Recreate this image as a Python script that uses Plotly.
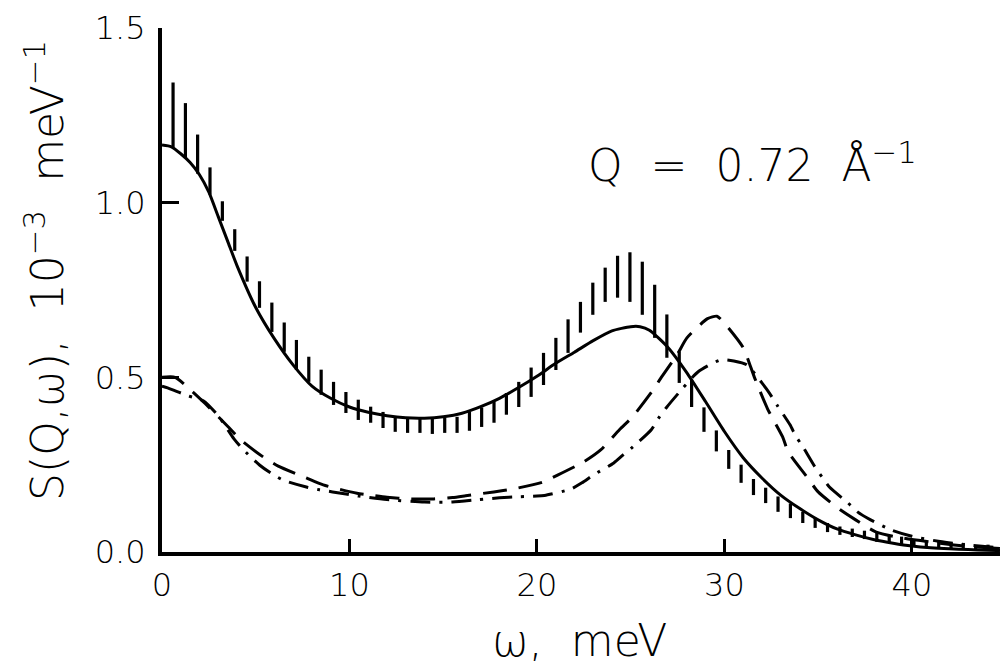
import plotly.graph_objects as go

# Measured S(Q, omega) with error bars (energy transfer in meV, value in 1e-3 meV^-1)
omega_exp = [0.59, 1.25, 1.90, 2.56, 3.22, 3.88, 4.54, 5.20, 5.86, 6.52, 7.17, 7.83,
             8.49, 9.15, 9.81, 10.47, 11.13, 11.79, 12.44, 13.10, 13.76, 14.42, 15.08,
             15.74, 16.40, 17.05, 17.71, 18.37, 19.03, 19.69, 20.35, 21.01, 21.66, 22.32,
             22.98, 23.64, 24.30, 24.96, 25.62, 26.28, 26.93, 27.59, 28.25, 28.91, 29.57,
             30.23, 30.89, 31.55, 32.20, 32.86, 33.52, 34.18, 34.84, 35.50, 36.16, 36.82,
             37.47, 38.13, 38.79, 39.45, 40.11, 40.77, 41.43, 42.09, 42.74, 43.40, 44.06]
s_exp = [1.251, 1.207, 1.139, 1.062, 0.976, 0.893, 0.810, 0.737, 0.672, 0.615, 0.564, 0.523,
         0.486, 0.454, 0.428, 0.407, 0.393, 0.378, 0.364, 0.363, 0.363, 0.361, 0.363,
         0.364, 0.374, 0.386, 0.400, 0.424, 0.451, 0.486, 0.524, 0.567, 0.618, 0.672,
         0.725, 0.765, 0.788, 0.787, 0.755, 0.689, 0.618, 0.529, 0.454, 0.379, 0.318,
         0.265, 0.224, 0.186, 0.162, 0.137, 0.118, 0.099, 0.083, 0.070, 0.061, 0.055,
         0.049, 0.042, 0.036, 0.032, 0.027, 0.022, 0.020, 0.019, 0.016, 0.013, 0.012]
s_err = [0.093, 0.078, 0.056, 0.039, 0.028, 0.031, 0.036, 0.038, 0.042, 0.042, 0.043, 0.036,
         0.036, 0.033, 0.030, 0.029, 0.023, 0.023, 0.020, 0.022, 0.022, 0.023, 0.022,
         0.023, 0.027, 0.028, 0.030, 0.031, 0.036, 0.042, 0.046, 0.046, 0.048, 0.044,
         0.046, 0.049, 0.060, 0.071, 0.076, 0.076, 0.062, 0.045, 0.039, 0.035, 0.030,
         0.027, 0.026, 0.023, 0.022, 0.022, 0.021, 0.016, 0.014, 0.013, 0.012, 0.012,
         0.012, 0.013, 0.010, 0.012, 0.010, 0.008, 0.009, 0.008, 0.010, 0.007, 0.009]

# Model curve, solid line
omega_solid = [0, 0.5, 1, 1.5, 2, 2.5, 3, 3.5, 4, 5, 6, 7, 8, 9, 10, 11, 12, 13, 14, 15,
               16, 17, 18, 19, 20, 21, 22, 23, 24, 25, 25.5, 26, 27, 28, 29, 30, 31, 32,
               33, 34, 35, 36, 37, 38, 39, 40, 41, 42, 43, 44, 44.7]
s_solid = [1.165, 1.16, 1.14, 1.115, 1.08, 1.03, 0.96, 0.89, 0.82, 0.70, 0.61, 0.535,
           0.475, 0.44, 0.415, 0.40, 0.39, 0.384, 0.383, 0.387, 0.397, 0.416, 0.44, 0.47,
           0.503, 0.54, 0.572, 0.605, 0.633, 0.645, 0.645, 0.635, 0.585, 0.513, 0.43,
           0.345, 0.27, 0.212, 0.163, 0.125, 0.092, 0.066, 0.049, 0.035, 0.025, 0.017,
           0.012, 0.009, 0.007, 0.005, 0.004]

# Model curve, dashed line
omega_dash = [0, 0.7, 1.65, 2.3, 3.5, 4.2, 5.4, 6.2, 7.7, 8.6, 10.4, 11.1, 12, 13.2, 14.5,
              15.5, 16.2, 17.7, 18.7, 20.3, 21.1, 22.5, 23.4, 24.4, 25.1, 26.2, 26.6,
              27.5, 28.0, 29.1, 29.6, 30.0, 31.0, 31.6, 32.3, 33.1, 33.4, 34.4, 35.0,
              36.2, 37.0, 38.1, 39.5, 41.5, 43.0, 44.7]
s_dash = [0.500, 0.500, 0.458, 0.425, 0.360, 0.321, 0.272, 0.246, 0.212, 0.192, 0.168,
          0.163, 0.157, 0.152, 0.152, 0.156, 0.161, 0.172, 0.180, 0.200, 0.220, 0.258,
          0.292, 0.350, 0.387, 0.464, 0.497, 0.567, 0.613, 0.668, 0.675, 0.655, 0.585,
          0.500, 0.410, 0.330, 0.287, 0.215, 0.172, 0.120, 0.092, 0.057, 0.040, 0.025,
          0.016, 0.010]

# Model curve, dash-dot line
omega_dashdot = [0, 0.3, 1.4, 2.2, 3.0, 3.84, 4.3, 5.2, 5.8, 6.45, 7.7, 8.4, 9.1, 10.5,
                 12, 14, 15.5, 16.9, 18, 19, 20, 20.4, 21.8, 22.4, 23, 24.1, 24.6, 25.1,
                 26.1, 26.5, 26.9, 27.7, 28.6, 29.8, 30.5, 31.2, 32.0, 32.4, 32.8, 33.5,
                 33.8, 34.2, 34.8, 35.2, 35.6, 36.6, 37.1, 37.8, 38.9, 40, 41.5, 43,
                 44.7]
s_dashdot = [0.475, 0.470, 0.447, 0.433, 0.39, 0.324, 0.295, 0.249, 0.226, 0.206, 0.186,
             0.178, 0.172, 0.160, 0.150, 0.143, 0.143, 0.150, 0.155, 0.158, 0.160, 0.162,
             0.180, 0.198, 0.220, 0.255, 0.278, 0.300, 0.350, 0.384, 0.413, 0.464, 0.516,
             0.550, 0.547, 0.536, 0.484, 0.455, 0.421, 0.364, 0.332, 0.300, 0.246, 0.215,
             0.186, 0.140, 0.115, 0.092, 0.063, 0.045, 0.030, 0.020, 0.012]

x_ticks = [0, 10, 20, 30, 40]
y_ticks = [0.0, 0.5, 1.0, 1.5]
y_tick_text = ["0.0", "0.5", "1.0", "1.5"]

FONT = "DejaVu Sans, Liberation Sans, sans-serif"
THIN = 200

fig = go.Figure()

fig.add_trace(go.Scatter(x=omega_solid, y=s_solid, mode="lines",
                         line=dict(color="black", width=3, shape="spline", smoothing=0.6)))
fig.add_trace(go.Scatter(x=omega_dash, y=s_dash, mode="lines",
                         line=dict(color="black", width=3, dash="24px,12px",
                                   shape="spline", smoothing=0.6)))
fig.add_trace(go.Scatter(x=omega_dashdot, y=s_dashdot, mode="lines",
                         line=dict(color="black", width=3, dash="20px,9px,3px,9px",
                                   shape="spline", smoothing=0.6)))
fig.add_trace(go.Scatter(x=omega_exp, y=s_exp, mode="markers",
                         marker=dict(size=1, color="rgba(0,0,0,0)"),
                         error_y=dict(type="data", array=s_err, visible=True,
                                      width=0, thickness=3.2, color="black")))

# Momentum-transfer label inside the plot
fig.add_annotation(x=31.5, y=1.115, xref="x", yref="y",
                   text="Q  =  0.72  Å<sup>−1</sup>", showarrow=False,
                   xanchor="center", yanchor="middle",
                   font=dict(family=FONT, size=44, color="black", weight=THIN))

# Axis titles, placed as free text
fig.add_annotation(x=0.4988, y=-0.168, xref="paper", yref="paper",
                   text="ω,  meV", showarrow=False,
                   xanchor="center", yanchor="middle",
                   font=dict(family=FONT, size=44, color="black", weight=THIN))
fig.add_annotation(x=-0.141, y=0.538, xref="paper", yref="paper",
                   text="S(Q,ω),  10<sup>−3</sup>  meV<sup>−1</sup>",
                   showarrow=False, textangle=-90,
                   xanchor="center", yanchor="middle",
                   font=dict(family=FONT, size=44, color="black", weight=THIN))

fig.update_layout(
    width=1000, height=666,
    margin=dict(l=162, r=0, t=28, b=114),
    paper_bgcolor="white", plot_bgcolor="white",
    showlegend=False,
    font=dict(family=FONT, size=32, color="black"),
)

fig.update_xaxes(
    range=[0, 44.7], tickvals=x_ticks, ticks="inside", ticklen=13, tickwidth=3,
    tickcolor="black", showline=True, linewidth=4, linecolor="black",
    showgrid=False, zeroline=False, ticklabelstandoff=2,
    tickfont=dict(family=FONT, size=32, weight=THIN),
)
fig.update_yaxes(
    range=[0, 1.5], tickvals=y_ticks, ticktext=y_tick_text, ticks="inside", ticklen=17,
    tickwidth=3, tickcolor="black", showline=True, linewidth=4, linecolor="black",
    showgrid=False, zeroline=False, ticklabelstandoff=6,
    tickfont=dict(family=FONT, size=32, weight=THIN),
)

fig.write_html("out.html")
